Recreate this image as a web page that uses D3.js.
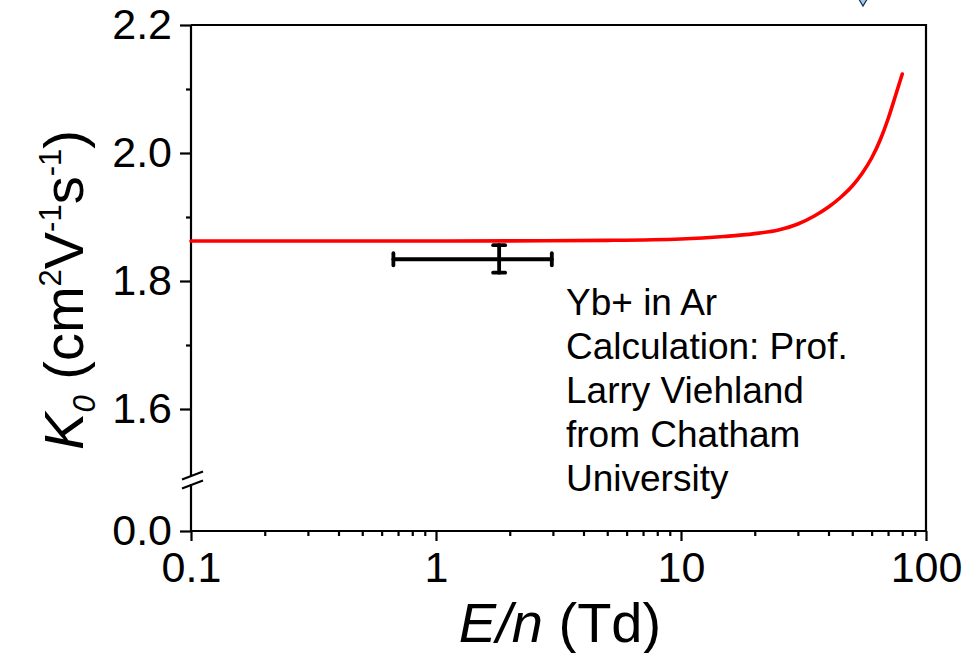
<!DOCTYPE html>
<html>
<head>
<meta charset="utf-8">
<script src="https://cdn.jsdelivr.net/npm/d3@7"></script>
<style>
  body { margin: 0; background: #fff; }
  text { font-family: "Liberation Sans", Arial, sans-serif; fill: #000; }
</style>
</head>
<body>
<svg id="chart" width="974" height="653"></svg>
<script>
// calculated mobility curve (Td, K0)
const curveEn = [0.1, 1, 2, 5, 10, 15, 20, 25, 30, 35, 40, 45, 50, 55, 60, 65, 70, 75, 80];
const curveK0 = [1.8625, 1.8625, 1.8627, 1.8635, 1.8656, 1.8695, 1.874, 1.8797, 1.889, 1.9016, 1.9156, 1.9313,
  1.9484, 1.9688, 1.9922, 2.0203, 2.0531, 2.0891, 2.1234];

// measured point with error bars
const measEn = [1.81], measEnLo = [0.67], measEnHi = [2.97];
const measK0 = [1.834], measK0Lo = [1.813], measK0Hi = [1.856];

const xTicks = [0.1, 1, 10, 100];
const yTicks = [1.6, 1.8, 2.0, 2.2];
const yMinor = [1.7, 1.9, 2.1];
const noteLines = ["Yb+ in Ar", "Calculation: Prof.", "Larry Viehland", "from Chatham", "University"];

const svg = d3.select("#chart");
const plotL = 191, plotR = 926, plotT = 25, plotB = 531;

const x = d3.scaleLog().domain([0.1, 100]).range([plotL, plotR]);
// upper part of the broken axis, lower part only carries 0.0
const y = d3.scaleLinear().domain([1.6, 2.2]).range([409, plotT]);
const yLow = d3.scaleLinear().domain([0, 0.1]).range([plotB, 489]);

// x axis
const minorX = [];
for (let d = 0.1; d < 100; d *= 10) {
  for (let k = 2; k < 10; k++) minorX.push(d * k);
}
const gx = svg.append("g").attr("transform", "translate(0," + plotB + ")");
gx.call(d3.axisBottom(x).tickValues(minorX).tickSize(5).tickFormat(""));
gx.append("g").call(d3.axisBottom(x).tickValues(xTicks).tickSize(10).tickPadding(10)
  .tickFormat(d3.format("~g")));
gx.selectAll(".domain").attr("stroke-width", 2.2).attr("d", "M" + (plotL - 1) + ",0H" + (plotR + 1));

// y axis, upper segment
const gy = svg.append("g").attr("transform", "translate(" + plotL + ",0)");
gy.call(d3.axisLeft(y).tickValues(yMinor).tickSize(5).tickFormat(""));
gy.append("g").call(d3.axisLeft(y).tickValues(yTicks).tickSize(11).tickPadding(8)
  .tickFormat(d3.format(".1f")));
gy.selectAll(".domain").remove();
gy.append("line").attr("x1", 0).attr("x2", 0).attr("y1", plotT).attr("y2", 476)
  .attr("stroke", "#000").attr("stroke-width", 2.2);

// y axis, lower segment
const gyl = svg.append("g").attr("transform", "translate(" + plotL + ",0)");
gyl.call(d3.axisLeft(yLow).tickValues([0]).tickSize(11).tickPadding(8).tickFormat(d3.format(".1f")));
gyl.selectAll(".domain").remove();
gyl.append("line").attr("x1", 0).attr("x2", 0).attr("y1", 484).attr("y2", plotB)
  .attr("stroke", "#000").attr("stroke-width", 2.2);

svg.selectAll(".tick line").attr("stroke-width", 2.2);
svg.selectAll(".tick text").attr("font-size", 43).attr("font-family", "Liberation Sans, Arial");

// break marks
[0, 9].forEach(dy => {
  svg.append("line")
    .attr("x1", plotL - 9).attr("y1", 479.5 + dy)
    .attr("x2", plotL + 12).attr("y2", 471.5 + dy)
    .attr("stroke", "#000").attr("stroke-width", 2);
});

// top and right frame
svg.append("path")
  .attr("d", "M" + plotL + "," + plotT + "H" + plotR + "V" + plotB)
  .attr("fill", "none").attr("stroke", "#000").attr("stroke-width", 2.2);

// calculated curve
const curve = curveEn.map((e, i) => ({ e, k: curveK0[i] }));
svg.append("path")
  .datum(curve)
  .attr("fill", "none")
  .attr("stroke", "#ff0000")
  .attr("stroke-width", 3.6)
  .attr("stroke-linecap", "round")
  .attr("d", d3.line().x(d => x(d.e)).y(d => y(d.k)).curve(d3.curveMonotoneX));

// measurement with error bars
const meas = measEn.map((e, i) => ({
  e, elo: measEnLo[i], ehi: measEnHi[i], k: measK0[i], klo: measK0Lo[i], khi: measK0Hi[i]
}));
const gm = svg.append("g").attr("stroke", "#000").attr("stroke-width", 3.8).attr("stroke-linecap", "round");
meas.forEach(d => {
  gm.append("line").attr("x1", x(d.elo)).attr("x2", x(d.ehi)).attr("y1", y(d.k)).attr("y2", y(d.k));
  gm.append("line").attr("x1", x(d.e)).attr("x2", x(d.e)).attr("y1", y(d.klo)).attr("y2", y(d.khi));
  [d.elo, d.ehi].forEach(v => {
    gm.append("line").attr("x1", x(v)).attr("x2", x(v)).attr("y1", y(d.k) - 6).attr("y2", y(d.k) + 6);
  });
  [d.klo, d.khi].forEach(v => {
    gm.append("line").attr("x1", x(d.e) - 6).attr("x2", x(d.e) + 6).attr("y1", y(v)).attr("y2", y(v));
  });
});

// annotation
svg.append("g").selectAll("text")
  .data(noteLines)
  .join("text")
  .attr("x", 566)
  .attr("y", (d, i) => 315 + i * 44)
  .attr("font-size", 37)
  .text(d => d);

// axis titles
const xt = svg.append("text")
  .attr("x", 560).attr("y", 642)
  .attr("text-anchor", "middle")
  .attr("font-size", 56);
xt.append("tspan").attr("font-style", "italic").text("E/n");
xt.append("tspan").text(" (Td)");

const yt = svg.append("text")
  .attr("transform", "translate(83,290) rotate(-90)")
  .attr("text-anchor", "middle")
  .attr("font-size", 56);
yt.append("tspan").attr("font-style", "italic").text("K");
yt.append("tspan").attr("font-style", "italic").attr("font-size", 31).attr("dy", 12).text("0");
yt.append("tspan").attr("dy", -12).text(" (cm");
yt.append("tspan").attr("font-size", 31).attr("dy", -22).text("2");
yt.append("tspan").attr("dy", 22).text("V");
yt.append("tspan").attr("font-size", 31).attr("dy", -22).text("-1");
yt.append("tspan").attr("dy", 22).text("s");
yt.append("tspan").attr("font-size", 31).attr("dy", -22).text("-1");
yt.append("tspan").attr("dy", 22).text(")");

// clipped marker peeking in at the top edge
svg.append("path")
  .attr("d", "M857,-4L869,-4L863,6Z")
  .attr("fill", "#9ecbee").attr("stroke", "#1a2a4a").attr("stroke-width", 1.2);
</script>
</body>
</html>
